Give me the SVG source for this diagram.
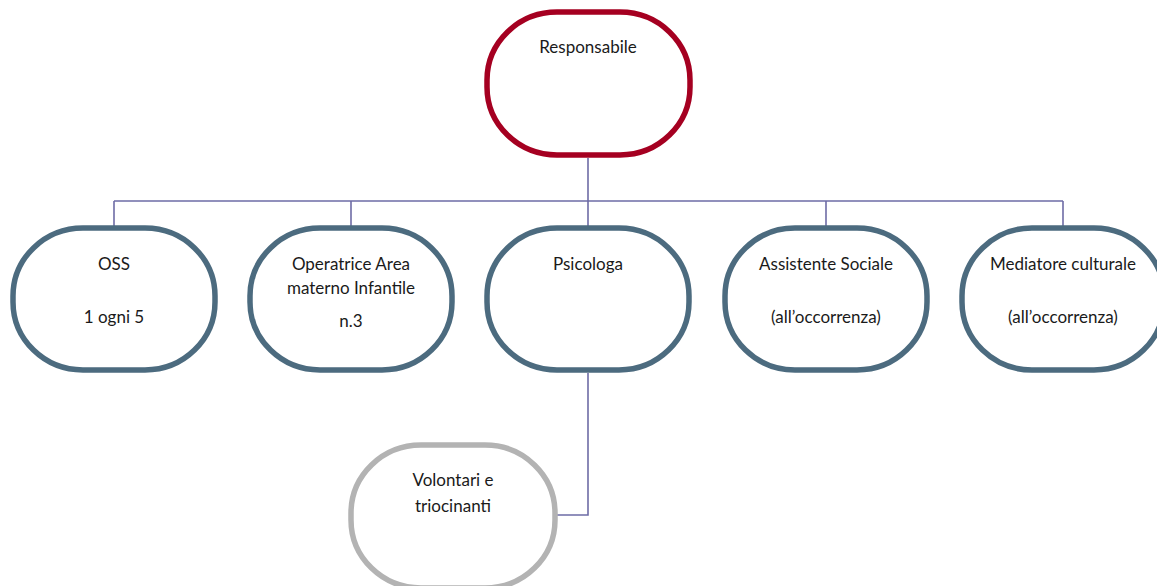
<svg xmlns="http://www.w3.org/2000/svg" width="1157" height="586" viewBox="0 0 1157 586">
<style>
.n{fill:#fff;stroke-width:5.5}
.r{stroke:#A50021}
.b{stroke:#4C6B7F}
.g{stroke:#B3B3B3}
.t{font-family:Lato,"Liberation Sans",Arial,sans-serif;font-size:17px;fill:#1a1a1a;text-anchor:middle}
.c{fill:none;stroke:#6E6CA6;stroke-width:1.6}
</style>
<rect width="1157" height="586" fill="#fff"/>
<g id="connectors">
<path class="c" d="M588 158V201M114 201H1063M114 201V226M351 201V226M588 201V226M826 201V226M1063 201V226"/>
<path class="c" d="M588 373V515H556"/>
</g>
<g id="responsabile">
<rect class="n r" x="487" y="12" width="203" height="143" rx="70" ry="68"/>
<text class="t" x="588" y="53">Responsabile</text>
</g>
<g id="oss">
<rect class="n b" x="13" y="228" width="202" height="142" rx="70" ry="68"/>
<text class="t" x="114" y="270">OSS</text>
<text class="t" x="114" y="323">1 ogni 5</text>
</g>
<g id="operatrice">
<rect class="n b" x="250" y="228" width="202" height="142" rx="70" ry="68"/>
<text class="t" x="351" y="270">Operatrice Area</text>
<text class="t" x="351" y="294">materno Infantile</text>
<text class="t" x="351" y="327">n.3</text>
</g>
<g id="psicologa">
<rect class="n b" x="487" y="228" width="202" height="142" rx="70" ry="68"/>
<text class="t" x="588" y="270">Psicologa</text>
</g>
<g id="assistente">
<rect class="n b" x="725" y="228" width="202" height="142" rx="70" ry="68"/>
<text class="t" x="826" y="270">Assistente Sociale</text>
<text class="t" x="826" y="323">(all’occorrenza)</text>
</g>
<g id="mediatore">
<rect class="n b" x="962" y="228" width="202" height="142" rx="70" ry="68"/>
<text class="t" x="1063" y="270">Mediatore culturale</text>
<text class="t" x="1063" y="323">(all’occorrenza)</text>
</g>
<g id="volontari">
<rect class="n g" x="351" y="445" width="204" height="143" rx="70" ry="68"/>
<text class="t" x="453" y="486">Volontari e</text>
<text class="t" x="453" y="512">triocinanti</text>
</g>
</svg>
